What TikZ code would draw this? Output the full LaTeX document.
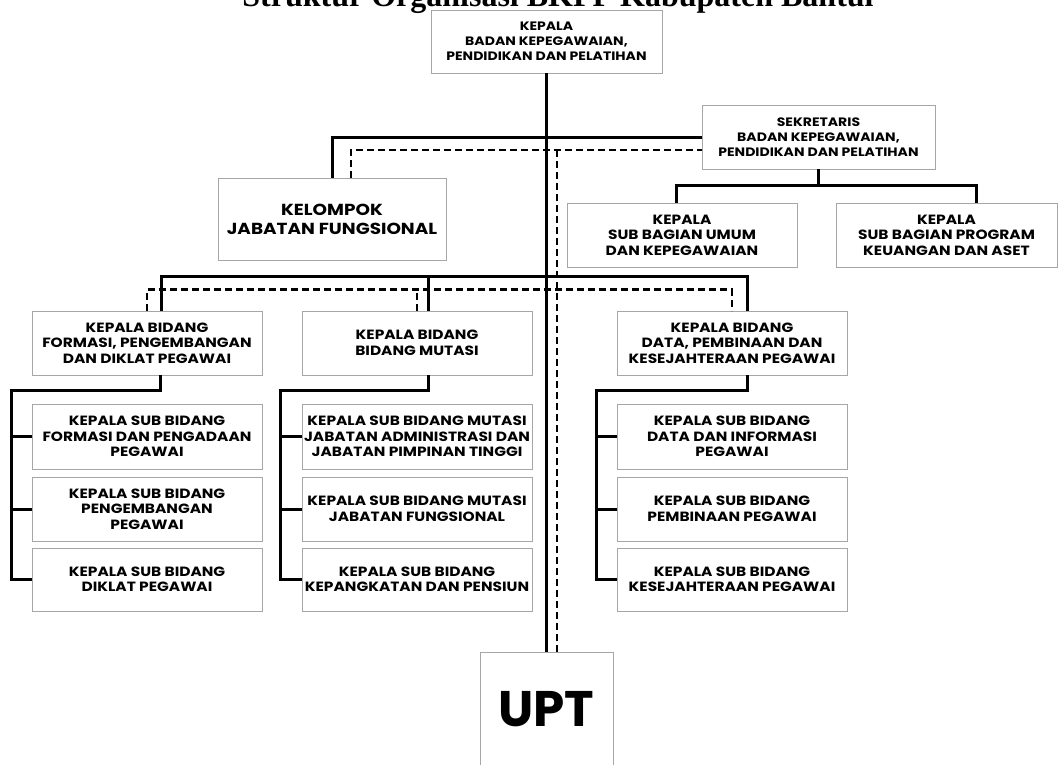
\documentclass[tikz,border=0pt]{standalone}
\usepackage{fontspec}
\setmainfont{Liberation Serif}
\newfontfamily\pop{Poppins}[FakeStretch=1.15]
\newfontfamily\popn{Poppins}
\begin{document}
\begin{tikzpicture}[x=1pt,y=-1pt,
  box/.style={draw=black!35, line width=0.8pt, fill=white, align=center, inner sep=1pt,
    minimum width=230pt, minimum height=64pt, font=\pop\bfseries\fontsize{13.4}{15.5}\selectfont},
  smalltxt/.style={font=\pop\bfseries\fontsize{12.2}{15}\selectfont},
  bigtxt/.style={font=\pop\bfseries\fontsize{16}{19}\selectfont},
  sol/.style={line width=3pt, line join=miter},
  dsh/.style={line width=2.6pt, dash pattern=on 7pt off 4pt, line join=miter}]
\useasboundingbox (0,0) rectangle (1058,764);
% title
\node[font=\bfseries\fontsize{32}{36}\selectfont, anchor=base, inner sep=0pt] (title) at (558,6.5) {Struktur Organisasi BKPP Kabupaten Bantul};
% nodes
\node[box, smalltxt, minimum width=231pt, minimum height=63pt] (top) at (546.5,41.5) {KEPALA\\BADAN KEPEGAWAIAN,\\PENDIDIKAN DAN PELATIHAN};
\node[box, smalltxt, minimum width=233pt] (sek) at (818.5,137) {SEKRETARIS\\BADAN KEPEGAWAIAN,\\PENDIDIKAN DAN PELATIHAN};
\node[box, bigtxt, minimum width=228pt, minimum height=82pt] (kel) at (332,219) {KELOMPOK\\JABATAN FUNGSIONAL};
\node[box] (umum) at (682,235) {KEPALA\\SUB BAGIAN UMUM\\DAN KEPEGAWAIAN};
\node[box, minimum width=221pt] (prog) at (946.5,235) {KEPALA\\SUB BAGIAN PROGRAM\\KEUANGAN DAN ASET};
\node[box] (A) at (147,343) {KEPALA BIDANG\\FORMASI, PENGEMBANGAN\\DAN DIKLAT PEGAWAI};
\node[box] (B) at (417,343) {KEPALA BIDANG\\BIDANG MUTASI};
\node[box] (C) at (732,343) {KEPALA BIDANG\\DATA, PEMBINAAN DAN\\KESEJAHTERAAN PEGAWAI};
\node[box, minimum height=65pt] (A1) at (147,436.5) {KEPALA SUB BIDANG\\FORMASI DAN PENGADAAN\\PEGAWAI};
\node[box] (A2) at (147,509) {KEPALA SUB BIDANG\\PENGEMBANGAN\\PEGAWAI};
\node[box, minimum height=63pt] (A3) at (147,579.5) {KEPALA SUB BIDANG\\DIKLAT PEGAWAI};
\node[box, minimum height=65pt] (B1) at (417,436.5) {KEPALA SUB BIDANG MUTASI\\JABATAN ADMINISTRASI DAN\\JABATAN PIMPINAN TINGGI};
\node[box] (B2) at (417,509) {KEPALA SUB BIDANG MUTASI\\JABATAN FUNGSIONAL};
\node[box, minimum height=63pt] (B3) at (417,579.5) {KEPALA SUB BIDANG\\KEPANGKATAN DAN PENSIUN};
\node[box, minimum height=65pt] (C1) at (732,436.5) {KEPALA SUB BIDANG\\DATA DAN INFORMASI\\PEGAWAI};
\node[box] (C2) at (732,509) {KEPALA SUB BIDANG\\PEMBINAAN PEGAWAI};
\node[box, minimum height=63pt] (C3) at (732,579.5) {KEPALA SUB BIDANG\\KESEJAHTERAAN PEGAWAI};
\node[box, minimum width=133pt, minimum height=114pt, font=\popn\bfseries\fontsize{50}{54}\selectfont] (upt) at (546.5,709) {UPT};
% junction coordinates
\coordinate (dj) at (557,150);
\coordinate (aL) at (11,390);
\coordinate (bL) at (280,390);
\coordinate (cL) at (596,390);
% main trunk
\draw[sol] (top.south) -- (upt.north);
\draw[dsh] (dj) -- (dj |- upt.north);
% sekretaris and kelompok
\draw[sol] (kel.north) |- (sek.west);
\draw[dsh] ([xshift=19pt]kel.north) |- ([yshift=-13pt]sek.west);
\draw[sol] (sek.south) -- ++(0,17);
\draw[sol] ([xshift=-6pt]umum.north) -- ++(0,-17) -| ([xshift=29.5pt]prog.north);
% bidang row
\draw[sol] ([xshift=14pt]A.north) -- ++(0,-34) -| ([xshift=15pt]C.north);
\draw[sol] ([xshift=11pt]B.north) -- ++(0,-34);
\draw[dsh] (A.north) -- ++(0,-21) -| (C.north);
\draw[dsh] (B.north) -- ++(0,-21);
% sub brackets
\draw[sol] ([xshift=13pt]A.south) |- (aL) |- (A3.west);
\draw[sol] (A1.west) -- (A1.west -| aL);
\draw[sol] (A2.west) -- (A2.west -| aL);
\draw[sol] ([xshift=11pt]B.south) |- (bL) |- (B3.west);
\draw[sol] (B1.west) -- (B1.west -| bL);
\draw[sol] (B2.west) -- (B2.west -| bL);
\draw[sol] ([xshift=15pt]C.south) |- (cL) |- (C3.west);
\draw[sol] (C1.west) -- (C1.west -| cL);
\draw[sol] (C2.west) -- (C2.west -| cL);
\end{tikzpicture}
\end{document}
